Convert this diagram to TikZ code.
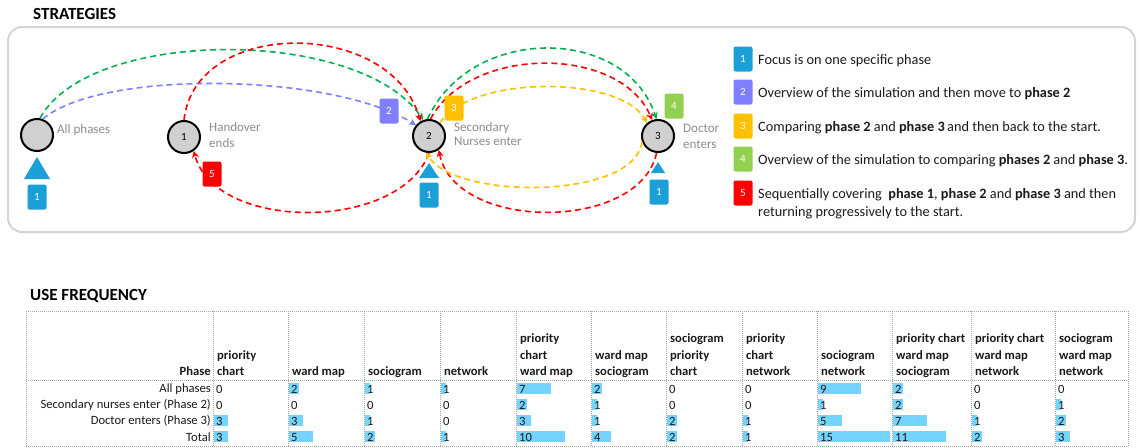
\documentclass[tikz,border=0pt]{standalone}
\usepackage{fontspec}
\setmainfont{Carlito}
\usetikzlibrary{arrows.meta,positioning}

\definecolor{fblue}{HTML}{1A9FD6}
\definecolor{spurple}{HTML}{7F7FFF}
\definecolor{syellow}{HTML}{FFC000}
\definecolor{sgreen}{HTML}{00B050}
\definecolor{sgreenlight}{HTML}{92D050}
\definecolor{sred}{HTML}{FF0000}
\definecolor{circgray}{HTML}{D0D0D0}
\definecolor{labgray}{HTML}{8C8C8C}
\definecolor{boxgray}{HTML}{D4D4D4}
\definecolor{gridgray}{HTML}{A6A6A6}
\definecolor{barblue}{HTML}{75D3FF}
\definecolor{ink}{HTML}{1A1A1A}

\begin{document}
\begin{tikzpicture}[x=1pt, y=-1pt,
  phase/.style={circle, draw=black, line width=2pt, fill=circgray, minimum size=32pt, inner sep=0pt, font=\fontsize{11}{13}\selectfont},
  tag/.style={fill=#1, rounded corners=2pt, minimum width=19pt, minimum height=25pt, inner sep=0pt, text=white, font=\fontsize{11}{13}\selectfont},
  phlab/.style={text=labgray, align=left, inner sep=0pt, anchor=north west},
  route/.style={draw=#1, line width=1.6pt, dash pattern=on 6pt off 4pt, -{Stealth[length=7pt,width=7pt]}},
  title/.style={anchor=west, inner sep=0pt, font=\bfseries\fontsize{17}{20}\selectfont},
  legtext/.style={anchor=base west, inner sep=0pt, text=ink, font=\fontsize{14.3}{18}\selectfont},
  grid/.style={draw=gridgray, line width=0.8pt, dash pattern=on 1pt off 1pt},
  bar/.style={fill=barblue},
  cell/.style={anchor=west, inner sep=0pt, text=ink, font=\fontsize{12.6}{15}\selectfont},
  rowlab/.style={anchor=east, inner sep=0pt, text=ink, font=\fontsize{12.6}{15}\selectfont},
  colhead/.style={anchor=south west, inner sep=0pt, text depth=0pt, align=left, text=ink, font=\bfseries\fontsize{12.6}{16.5}\selectfont}]
\useasboundingbox (0,0) rectangle (1142,447);

% strategies
\node[title] (strat) at (33,14) {STRATEGIES};
\draw[draw=boxgray, line width=2pt, rounded corners=14pt] (8,27) rectangle (1135,232);

\node[phase] (allph) at (37,135) {};
\node[phase] (ph1) at (184,137) {1};
\node[phase] (ph2) at (429,136) {2};
\node[phase] (ph3) at (658,136) {3};

\node[phlab, font=\fontsize{13}{15}\selectfont] (allphlab) at (57,124) {All phases};
\node[phlab, font=\fontsize{13}{16}\selectfont] (ph1lab) at (209,122) {Handover\\ends};
\node[phlab, font=\fontsize{13}{14.5}\selectfont] (ph2lab) at (454,122) {Secondary\\Nurses enter};
\node[phlab, font=\fontsize{13}{16}\selectfont] (ph3lab) at (683,124) {Doctor\\enters};

% routes
\draw[route=sgreen] (allph.80) .. controls (90,27) and (360,27) .. (ph2.110);
\draw[route=sgreen] (ph2.95) .. controls (470,25) and (625,25) .. (ph3.95);
\draw[route=spurple] (allph.70) .. controls (100,70) and (330,72) .. (ph2.140);
\draw[route=sred] (ph1.north) .. controls (195,18) and (390,18) .. (ph2.120);
\draw[route=sred] (ph2.85) .. controls (470,45) and (620,45) .. (ph3.110);
\draw[route=sred] (ph3.-95) .. controls (640,232) and (455,232) .. (ph2.-55);
\draw[route=sred] (ph2.-90) .. controls (400,232) and (215,232) .. (ph1.-55);
\draw[route=syellow] (ph2.50) .. controls (470,75) and (620,75) .. (ph3.130);
\draw[route=syellow] (ph3.200) .. controls (635,200) and (455,200) .. (ph2.-100);

% focus markers
\fill[fblue] (37,157) -- (50,179) -- (24,179) -- cycle;
\fill[fblue] (429,163) -- (439,178) -- (419,178) -- cycle;
\fill[fblue] (658,162) -- (665,173) -- (651,173) -- cycle;
\node[tag=fblue] (f1a) at (37,197) {1};
\node[tag=fblue] (f1b) at (429,195) {1};
\node[tag=fblue] (f1c) at (659,192) {1};
\node[tag=spurple] (s2) at (389,111) {2};
\node[tag=syellow] (s3) at (454,108) {3};
\node[tag=sgreenlight] (s4) at (674,106) {4};
\node[tag=sred] (s5) at (212,174) {5};

% legend
\foreach \n/\c/\y in {1/fblue/59, 2/spurple/92, 3/syellow/126, 4/sgreenlight/159, 5/sred/193}
  \node[tag=\c] (leg\n) at (743,\y) {\n};
\node[legtext] (legtext1) at (758,64) {Focus is on one specific phase};
\node[legtext] (legtext2) at (758,97) {Overview of the simulation and then move to \textbf{phase 2}};
\node[legtext] (legtext3) at (758,131) {Comparing \textbf{phase 2} and \textbf{phase 3}\,and then back to the start.};
\node[legtext] (legtext4) at (758,164) {Overview of the simulation to comparing \textbf{phases 2} and \textbf{phase 3}.};
\node[legtext] (legtext5) at (758,198) {Sequentially covering\ \ \textbf{phase 1}, \textbf{phase 2} and \textbf{phase 3} and then};
\node[legtext] (legtext5b) at (758,216) {returning progressively to the start.};

% use frequency table
\node[title] (usefreq) at (30,296) {USE FREQUENCY};
\foreach \cx in {26,213,288,364,440,516,591,666,742,817,892,971,1055,1128}
  \draw[grid] (\cx,311) -- (\cx,446);
\foreach \ry in {311,380,446}
  \draw[grid] (26,\ry) -- (1128,\ry);

\node[colhead, anchor=south east] (phasehd) at (211,376) {Phase};
\foreach \cx/\hd in {213/{priority\\chart}, 288/{ward map}, 364/{sociogram}, 440/{network},
    516/{priority\\chart\\ward map}, 591/{ward map\\sociogram}, 666/{sociogram\\priority\\chart},
    742/{priority\\chart\\network}, 817/{sociogram\\network}, 892/{priority chart\\ward map\\sociogram},
    971/{priority chart\\ward map\\network}, 1055/{sociogram\\ward map\\network}}
  \node[colhead] at ({\cx+4},376) {\hd};

\foreach \lab [count=\r] in {All phases, Secondary nurses enter (Phase 2), Doctor enters (Phase 3), Total}
  \node[rowlab] at (211,{373+16*\r}) {\lab};

\foreach \cx/\va/\vb/\vc/\vd in {213/0/0/3/3, 288/2/0/3/5, 364/1/0/1/2, 440/1/0/0/1,
    516/7/2/3/10, 591/2/1/1/4, 666/0/0/2/2, 742/0/0/1/1, 817/9/1/5/15, 892/2/2/7/11,
    971/0/0/1/2, 1055/0/1/2/3}{
  \foreach \v [count=\r] in {\va,\vb,\vc,\vd}{
    \ifnum\v>0 \fill[bar] ({\cx+1},{367+16*\r}) rectangle ({\cx+1+4.8*\v},{378+16*\r}); \fi
    \node[cell] at ({\cx+3},{373+16*\r}) {\v};
  }
}
\end{tikzpicture}
\end{document}
